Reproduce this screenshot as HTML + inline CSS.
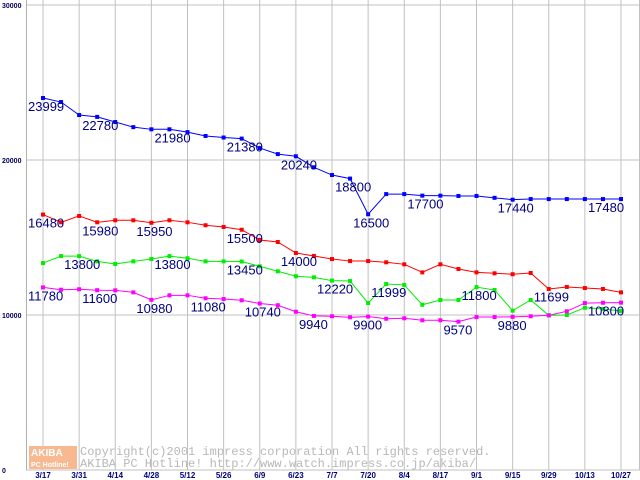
<!DOCTYPE html>
<html><head><meta charset="utf-8"><style>
html,body{margin:0;padding:0;background:#fff;}
svg{display:block;font-family:"Liberation Sans",sans-serif;}
</style></head><body>
<svg id="chart" width="640" height="480" viewBox="0 0 640 480" xmlns="http://www.w3.org/2000/svg"></svg>
<script>
const xLabels=["3/17","3/31","4/14","4/28","5/12","5/26","6/9","6/23","7/7","7/20","8/4","8/17","9/1","9/15","9/29","10/13","10/27"];
const yTicks=[0,10000,20000,30000];
const blueVals=[23999,23740,22900,22780,22450,22120,21980,21980,21800,21550,21450,21380,20770,20380,20240,19530,19030,18800,16500,17800,17800,17700,17700,17680,17680,17560,17440,17480,17480,17480,17480,17480,17480];
const redVals=[16480,15980,16390,15980,16110,16110,15950,16110,15980,15790,15680,15500,14840,14710,14000,13810,13610,13480,13480,13400,13270,12750,13270,12970,12750,12690,12630,12710,11680,11810,11740,11680,11460];
const greenVals=[13350,13800,13800,13460,13290,13460,13610,13800,13660,13460,13460,13450,13140,12820,12500,12430,12220,12190,10770,11999,11940,10660,10970,10970,11800,11610,10280,10970,9980,10000,10470,10390,10260];
const magentaVals=[11780,11630,11660,11600,11590,11460,10980,11270,11270,11080,11030,10950,10740,10630,10210,9940,9920,9850,9900,9760,9790,9660,9660,9570,9870,9870,9880,9920,9980,10240,10770,10790,10800];
const blueLabels=[[0,23999],[3,22780],[7,21980],[11,21380],[14,20240],[17,18800],[18,16500],[21,17700],[26,17440],[31,17480]];
const redLabels=[[0,16480],[3,15980],[6,15950],[11,15500],[14,14000]];
const greenLabels=[[2,13800],[7,13800],[11,13450],[16,12220],[19,11999],[24,11800],[28,11699]];
const magentaLabels=[[0,11780],[3,11600],[6,10980],[9,11080],[12,10740],[15,9940],[18,9900],[23,9570],[26,9880],[31,10800]];

const NS="http://www.w3.org/2000/svg";
const svg=document.getElementById('chart');
const X=i=>43+i*(578/32);
const Y=v=>470-v*0.0155;
function mk(tag,attrs,parent){const e=document.createElementNS(NS,tag);for(const k in attrs)e.setAttribute(k,attrs[k]);(parent||svg).appendChild(e);return e;}

yTicks.forEach(t=>{
  const l=mk('line',{x1:26,x2:640,y1:Y(t),y2:Y(t),stroke:'#c0c0c0','stroke-width':1});
  
  
  const tx=mk('text',{x:2,y:Y(t)+3,'font-size':7,'font-weight':'bold',fill:'#000060'});
  tx.textContent=String(t);
  
  
});
xLabels.forEach((s,i)=>{
  const x=X(i*2);
  const l=mk('line',{x1:x,x2:x,y1:0,y2:470,stroke:'#c0c0c0','stroke-width':1});
  
  
  const tx=mk('text',{x:x,y:478,'font-size':8,'font-weight':'bold',fill:'#000080','text-anchor':'middle'});
  tx.textContent=s;
  
  
});
const ax=mk('line',{x1:26.5,x2:26.5,y1:0,y2:470,stroke:'#b0b0b0','stroke-width':1});


const ax2=mk('line',{x1:639.5,x2:639.5,y1:0,y2:470,stroke:'#c0c0c0','stroke-width':1});



const wm=mk('g',{});


mk('rect',{x:29,y:446,width:48,height:23,fill:'#f8b890'},wm);
const w1=mk('text',{x:31,y:456,'font-size':10,fill:'#fff','font-weight':'bold'},wm);w1.textContent='AKIBA';
const w2=mk('text',{x:31,y:467,'font-size':7,fill:'#fff','font-weight':'bold'},wm);w2.textContent='PC Hotline!';
const w3=mk('text',{x:80,y:455,'font-size':12,fill:'#b8b8b8','font-family':'Liberation Mono, monospace'},wm);w3.textContent='Copyright(c)2001 impress corporation All rights reserved.';
const w4=mk('text',{x:80,y:467,'font-size':12,fill:'#b8b8b8','font-family':'Liberation Mono, monospace'},wm);w4.textContent='AKIBA PC Hotline!  http://www.watch.impress.co.jp/akiba/';

function series(vals,labels,color,name){
  const g=mk('g',{});
  
  
  const p=mk('polyline',{points:vals.map((v,i)=>X(i)+','+Y(v)).join(' '),fill:'none',stroke:color,'stroke-width':1},g);
  
  
  vals.forEach((v,i)=>{
    const r=mk('rect',{x:X(i)-2,y:Y(v)-2,width:4,height:4,fill:color},g);
    
    
  });
  labels.forEach(([i,v])=>{
    const t=mk('text',{x:X(i)-15,y:Y(v)+13,'font-size':13,fill:'#000080'},g);
    t.textContent=String(v);
    
    
  });
}
series(blueVals,blueLabels,'#0000ff','series-blue');
series(redVals,redLabels,'#ff0000','series-red');
series(greenVals,greenLabels,'#00ee00','series-green');
series(magentaVals,magentaLabels,'#ff00ff','series-magenta');
</script>
</body></html>
